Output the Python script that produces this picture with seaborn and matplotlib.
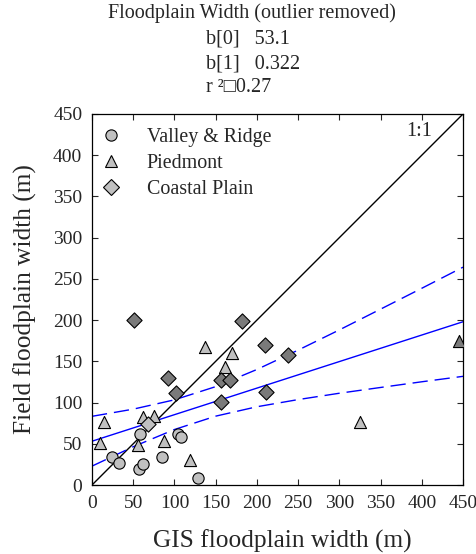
import numpy as np
import seaborn as sns
import matplotlib.pyplot as plt
from matplotlib.lines import Line2D

# Valley & Ridge (circles)
vr_x = [58.5, 24.2, 33.1, 57.3, 61.7, 84.7, 104.0, 107.7, 128.3]
vr_y = [62.4, 34.2, 26.2, 19.3, 25.3, 34.2, 62.4, 58.3, 8.9]

# Piedmont (triangles)
pd_x = [14.9, 10.0, 61.5, 74.6, 56.4, 87.5, 119.0, 137.5, 161.4, 170.0, 325.0]
pd_y = [76.0, 51.0, 82.5, 84.0, 48.0, 53.0, 30.0, 167.0, 142.8, 160.0, 76.0]
pd_dark_x = [445.0]
pd_dark_y = [175.0]

# Coastal Plain (diamonds)
cp_x = [50.4, 91.6, 101.7, 156.3, 167.4, 156.2, 182.3, 209.8, 210.6, 238.0]
cp_y = [200.0, 130.0, 111.4, 127.0, 127.0, 100.6, 199.5, 170.0, 112.7, 158.0]
cp_light_x = [68.5]
cp_light_y = [74.5]

# regression and confidence band
b0, b1, r2 = 53.1, 0.322, 0.27
band_x = [0, 50, 100, 150, 200, 250, 300, 350, 400, 450]
band_upper = [83.3, 92.0, 103.3, 119.3, 140.1, 163.6, 188.1, 213.3, 238.6, 264.2]
band_lower = [22.9, 46.4, 67.3, 83.5, 94.9, 103.6, 111.3, 118.3, 125.2, 131.8]

sns.set_style('ticks')
plt.rcParams['font.family'] = ['Liberation Serif', 'DejaVu Sans']

fig = plt.figure(figsize=(4.77, 5.54), dpi=100)
ax = fig.add_axes([92 / 477, 1 - 485 / 554, 371 / 477, 371 / 554])

light, dark = '#c0c0c0', '#7a7a7a'
kw = dict(edgecolor='black', linewidth=0.8, zorder=3, legend=False)
sns.scatterplot(x=vr_x, y=vr_y, marker='o', s=66, color=light, ax=ax, **kw)
sns.scatterplot(x=pd_x, y=pd_y, marker='^', s=76, color=light, ax=ax, **kw)
sns.scatterplot(x=pd_dark_x, y=pd_dark_y, marker='^', s=76, color=dark, ax=ax, **kw)
sns.scatterplot(x=cp_x, y=cp_y, marker='D', s=60, color=dark, ax=ax, **kw)
sns.scatterplot(x=cp_light_x, y=cp_light_y, marker='D', s=60, color=light, ax=ax, **kw)

# 1:1 line
ax.plot([0, 450], [0, 450], color='black', lw=1.0, zorder=2)
ax.text(0.916, 0.978, '1:1', transform=ax.transAxes, ha='right', va='top', fontsize=14.5)

# fit line and confidence band
fx = np.array([0, 450])
ax.plot(fx, b0 + b1 * fx, color='blue', lw=1.0, zorder=2)
ax.plot(band_x, band_upper, color='blue', lw=1.0, ls=(0, (11, 5)), zorder=2)
ax.plot(band_x, band_lower, color='blue', lw=1.0, ls=(0, (11, 5)), zorder=2)

ax.set_xlim(0, 450)
ax.set_ylim(0, 450)
ax.set_xticks(range(0, 451, 50))
ax.set_yticks(range(0, 451, 50))
ax.tick_params(direction='in', top=True, right=True, length=4, width=0.8,
               labelsize=14, pad=7)
for s in ax.spines.values():
    s.set_linewidth(0.9)
    s.set_color('black')

ax.set_xlabel('GIS floodplain width (m)', fontsize=18.3)
ax.set_ylabel('Field floodplain width (m)', fontsize=18.3)
ax.xaxis.set_label_coords(0.514, -0.121)
ax.yaxis.set_label_coords(-0.148, 0.5)

handles = [
    Line2D([], [], marker='o', ls='', color=light, mec='black', mew=0.8, ms=8.1),
    Line2D([], [], marker='^', ls='', color=light, mec='black', mew=0.8, ms=8.7),
    Line2D([], [], marker='D', ls='', color=light, mec='black', mew=0.8, ms=7.7),
]
ax.legend(handles, ['Valley & Ridge', 'Piedmont', 'Coastal Plain'],
          loc='upper left', bbox_to_anchor=(0.024, 0.962), frameon=False,
          fontsize=14.4, borderaxespad=0, borderpad=0, handlelength=1.0,
          handletextpad=1.3, labelspacing=0.36)

# title block
fig.text(251.5 / 477, 1 - 13.5 / 554, 'Floodplain Width (outlier removed)',
         ha='center', va='center', fontsize=14.5)
fig.text(206 / 477, 1 - 39 / 554, 'b[0]   %.1f' % b0, ha='left', va='center', fontsize=14.5)
fig.text(206 / 477, 1 - 63.5 / 554, 'b[1]   %.3f' % b1, ha='left', va='center', fontsize=14.5)
fig.text(206 / 477, 1 - 87 / 554, 'r \u00b2\u25a1%.2f' % r2, ha='left', va='center', fontsize=14.5)

fig.savefig('out.png', dpi=100)
